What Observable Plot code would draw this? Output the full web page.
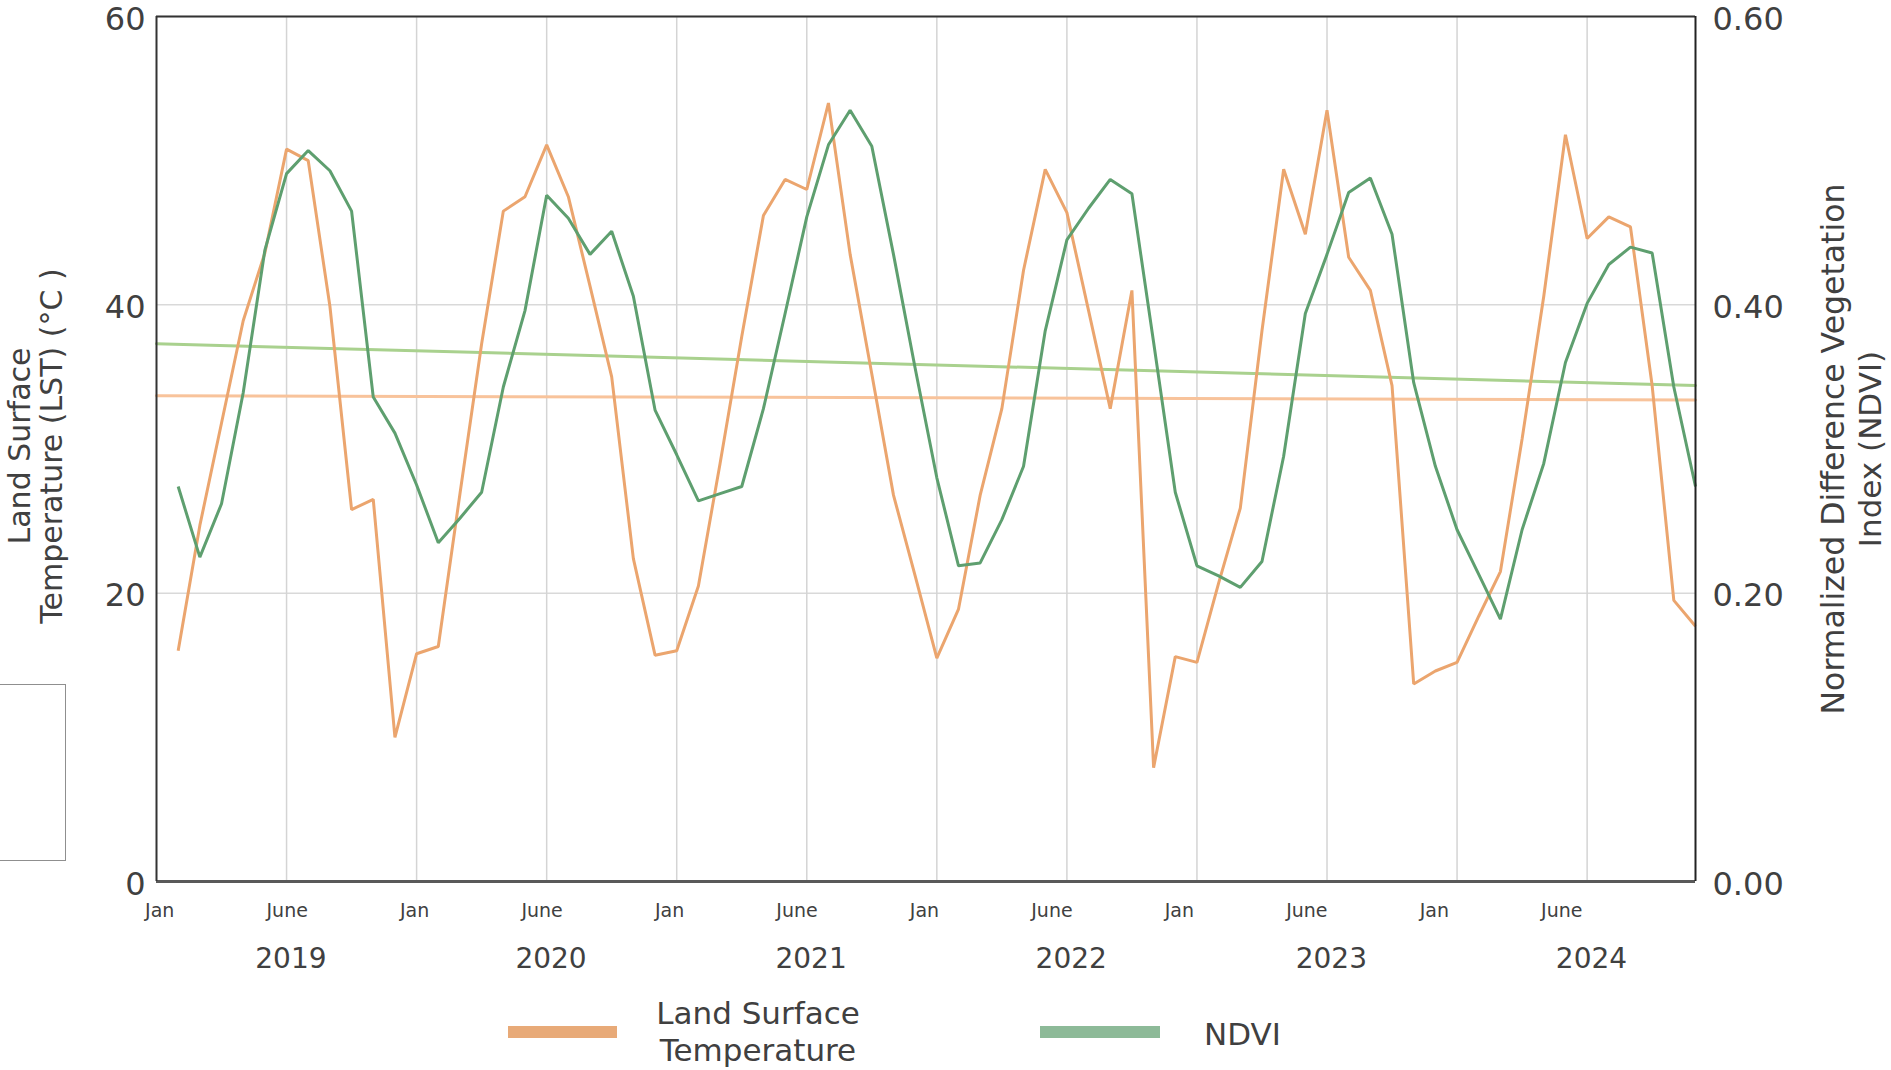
<!DOCTYPE html>
<html>
<head>
<meta charset="utf-8">
<script src="https://cdn.jsdelivr.net/npm/d3@7"></script>
<script src="https://cdn.jsdelivr.net/npm/@observablehq/plot@0.6"></script>
<style>
  html, body { margin: 0; padding: 0; background: #fff; }
  #wrap { position: relative; width: 1891px; height: 1070px; overflow: hidden;
          font-family: "DejaVu Sans", sans-serif; color: #404040; background: #fff; }
  .leg { position: absolute; }
</style>
</head>
<body>
<div id="wrap"></div>
<script>
// ---- data (monthly, Feb 2019 .. Dec 2024) ----
const lst = [
  16.0, 24.7, 31.8, 38.9, 43.6, 50.8, 50.0, 39.9, 25.8, 26.5, 10.0,
  15.8, 16.3, 26.9, 37.3, 46.5, 47.5, 51.1, 47.5, 41.3, 35.0, 22.4, 15.7,
  16.0, 20.5, 29.0, 37.8, 46.2, 48.7, 48.0, 54.0, 43.5, 35.2, 26.8, 21.2,
  15.5, 18.9, 26.8, 32.8, 42.4, 49.4, 46.4, 39.6, 32.8, 41.0, 7.9, 15.6,
  15.2, 20.7, 25.9, 38.2, 49.4, 44.9, 53.5, 43.3, 41.0, 34.4, 13.7, 14.6,
  15.2, 18.4, 21.5, 30.7, 40.6, 51.8, 44.6, 46.1, 45.4, 34.4, 19.5, 17.7
];
const ndvi = [
  0.274, 0.225, 0.262, 0.339, 0.438, 0.491, 0.507, 0.493, 0.465, 0.336, 0.311,
  0.275, 0.235, 0.252, 0.270, 0.343, 0.396, 0.476, 0.460, 0.435, 0.451, 0.406, 0.327,
  0.296, 0.264, 0.269, 0.274, 0.328, 0.394, 0.461, 0.511, 0.535, 0.510, 0.435, 0.356,
  0.280, 0.219, 0.221, 0.251, 0.288, 0.382, 0.445, 0.467, 0.487, 0.477, 0.374, 0.270,
  0.219, 0.212, 0.204, 0.222, 0.295, 0.394, 0.435, 0.478, 0.488, 0.449, 0.346, 0.288,
  0.244, 0.213, 0.182, 0.244, 0.290, 0.360, 0.401, 0.428, 0.440, 0.436, 0.343, 0.274
];
const firstMonth = 1;                 // Feb 2019 (Jan 2019 = 0)
const lastMonth = 71;                 // Dec 2024
const trendLST = [33.7, 33.4];        // linear trend, start / end
const trendNDVI = [0.373, 0.344];
const lstTicks = [0, 20, 40, 60];
const ndviTicks = [0, 0.2, 0.4, 0.6];
const monthNames = ["Jan","June","Jan","June","Jan","June","Jan","June","Jan","June","Jan","June"];
const years = [2019, 2020, 2021, 2022, 2023, 2024];

const K = 100; // NDVI (0–0.6) mapped onto the LST axis (0–60)
const rows = lst.map((v, i) => ({m: firstMonth + i, lst: v, ndvi: ndvi[i]}));
const trendRows = [
  {m: 0, lst: trendLST[0], ndvi: trendNDVI[0]},
  {m: lastMonth, lst: trendLST[1], ndvi: trendNDVI[1]}
];

const svg = Plot.plot({
  width: 1891,
  height: 990,
  marginLeft: 156,
  marginRight: 196,
  marginTop: 16,
  marginBottom: 109,
  style: {fontFamily: "DejaVu Sans, sans-serif", color: "#404040", background: "#fff", overflow: "visible"},
  x: {domain: [0, lastMonth], axis: null},
  y: {domain: [0, 60]},
  marks: [
    Plot.gridY([20, 40, 60], {stroke: "#d9d9d9", strokeOpacity: 1, strokeWidth: 1.5}),
    Plot.gridX(d3.range(6, lastMonth, 6), {stroke: "#d4d4d4", strokeOpacity: 1, strokeWidth: 1.5}),
    Plot.line(trendRows, {x: "m", y: d => d.ndvi * K, stroke: "#a9d18e", strokeWidth: 3}),
    Plot.line(trendRows, {x: "m", y: "lst", stroke: "#f8c39b", strokeWidth: 3}),
    Plot.line(rows, {x: "m", y: "lst", stroke: "#eba56e", strokeWidth: 3, strokeLinejoin: "miter", strokeLinecap: "butt"}),
    Plot.line(rows, {x: "m", y: d => d.ndvi * K, stroke: "#5e9f6f", strokeWidth: 3, strokeLinejoin: "miter", strokeLinecap: "butt"}),
    Plot.ruleY([0], {stroke: "#595959", strokeWidth: 3}),
    Plot.ruleY([60], {stroke: "#333", strokeWidth: 2}),
    Plot.ruleX([0], {stroke: "#333", strokeWidth: 2}),
    Plot.ruleX([lastMonth], {stroke: "#222", strokeWidth: 2}),
    Plot.axisY({ticks: lstTicks, anchor: "left", tickSize: 0, tickPadding: 11, fontSize: 32, dy: 3, label: null, color: "#404040"}),
    Plot.axisY({ticks: ndviTicks.map(v => v * K), tickFormat: d => (d / K).toFixed(2), anchor: "right",
                tickSize: 0, tickPadding: 17, fontSize: 32, dy: 3, label: null, color: "#404040"}),
    Plot.text(monthNames, {x: (d, k) => 0.15 + k * 5.88, text: d => d, frameAnchor: "bottom", dy: 35, fontSize: 19, fill: "#404040"}),
    Plot.text(years, {x: d => (d - years[0]) * 12 + 6.2, text: d => String(d), frameAnchor: "bottom", dy: 86, fontSize: 28, fill: "#404040"})
  ]
});

const s = d3.select(svg);
function vtitle(x, y, txt, size) {
  s.append("text")
    .attr("transform", `translate(${x},${y}) rotate(-90)`)
    .attr("text-anchor", "middle")
    .attr("font-size", size)
    .attr("font-family", "DejaVu Sans, sans-serif")
    .attr("fill", "#404040")
    .text(txt);
}
vtitle(30, 446, "Land Surface", 30);
vtitle(62, 446, "Temperature (LST) (°C )", 30);
vtitle(1844, 449, "Normalized Difference Vegetation", 31.5);
vtitle(1881, 449, "Index (NDVI)", 31);

const wrap = document.getElementById("wrap");
wrap.appendChild(svg);
svg.style.position = "absolute";
svg.style.left = "0px";
svg.style.top = "0px";

// legend + stray frame
wrap.insertAdjacentHTML("beforeend", `
  <div class="leg" style="left:-6px;top:684px;width:70px;height:175px;border:1.5px solid #8f8f8f;"></div>
  <div class="leg" style="left:508px;top:1026px;width:109px;height:12px;background:#e8aa78;"></div>
  <div class="leg" style="left:640px;top:995px;width:236px;text-align:center;font-size:31px;line-height:37px;">Land Surface<br>Temperature</div>
  <div class="leg" style="left:1040px;top:1026px;width:120px;height:12px;background:#8dba98;"></div>
  <div class="leg" style="left:1204px;top:1014px;font-size:31px;line-height:40px;">NDVI</div>
`);
</script>
</body>
</html>
